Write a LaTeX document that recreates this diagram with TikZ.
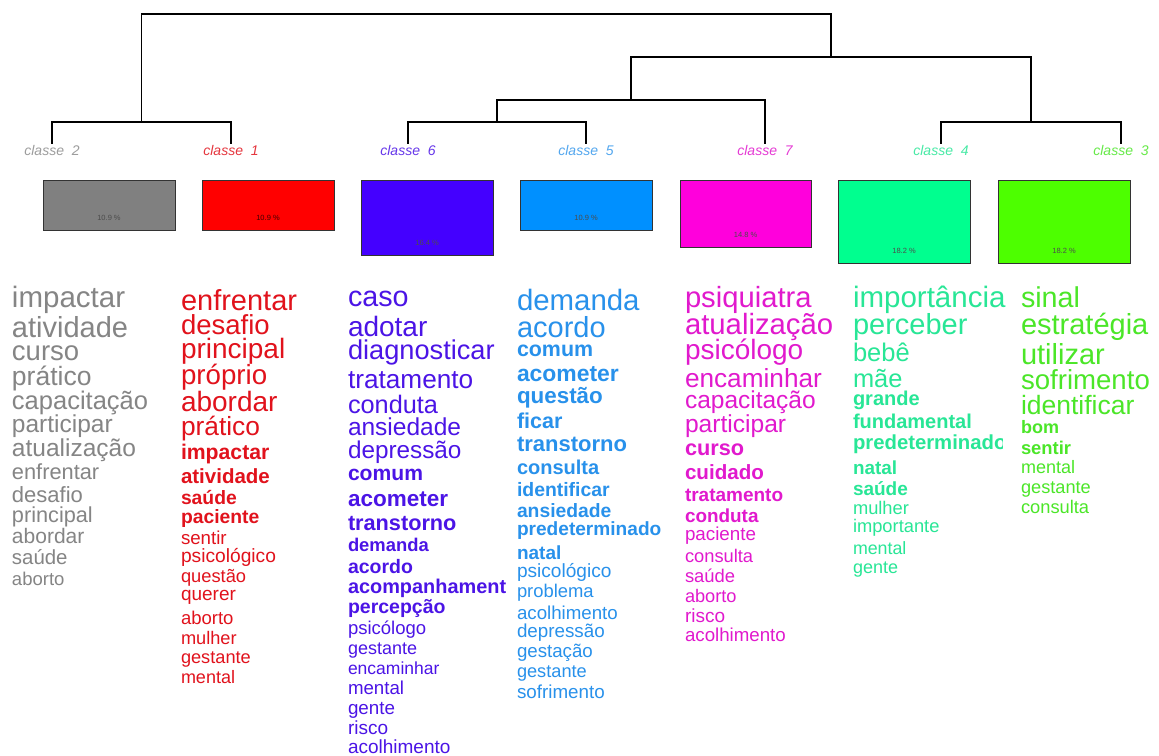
\documentclass[tikz,border=0pt]{standalone}
\usepackage{fontspec}
\setmainfont{Liberation Sans}
\definecolor{cgray}{RGB}{128,128,128}
\definecolor{cred}{RGB}{255,0,0}
\definecolor{cviol}{RGB}{68,0,255}
\definecolor{cblue}{RGB}{0,144,255}
\definecolor{cmag}{RGB}{255,0,220}
\definecolor{cspring}{RGB}{0,255,143}
\definecolor{cgreen}{RGB}{77,255,0}
\definecolor{tgray}{RGB}{133,133,133}
\definecolor{tred}{RGB}{225,18,28}
\definecolor{tviol}{RGB}{75,20,230}
\definecolor{tblue}{RGB}{40,145,235}
\definecolor{tmag}{RGB}{225,25,205}
\definecolor{tspring}{RGB}{40,230,150}
\definecolor{tgreen}{RGB}{75,230,40}
\newcommand\wtn{\mdseries}
\newcommand\wtb{\bfseries}
\newcommand\wordcol[4]{%
  \foreach \wtext/\wsize/\wy/\wf [count=\wi] in {#4}{%
    \node[word, text=#2, font={\fontsize{\wsize}{\wsize}\selectfont\csname wt\wf\endcsname}] (#3\wi) at (#1,{\wy+2.5+0.26*\wsize}) {\wtext};}}
\tikzset{
  word/.style={anchor=base west, inner sep=0pt, outer sep=0pt},
  cls/.style={inner sep=1pt, font=\fontsize{14}{14}\selectfont\itshape},
  box/.style={draw=black!80, line width=1pt, minimum width=132pt, inner sep=0pt},
  pct/.style={font=\fontsize{7.5}{7.5}\selectfont, text=black!70, inner sep=0pt},
  dendro/.style={line width=1.1pt, black}
}
\begin{document}
\begin{tikzpicture}[x=1pt,y=-1pt]
\fill[white] (0,0) rectangle (1159,755);
\useasboundingbox (0,0) rectangle (1159,755);

% class labels
\node[cls, text=tgray!80]  (c2) at (52,150)   {classe\ \ 2};
\node[cls, text=tred!85]   (c1) at (231,150)  {classe\ \ 1};
\node[cls, text=tviol!85]  (c6) at (408,150)  {classe\ \ 6};
\node[cls, text=tblue!80]  (c5) at (586,150)  {classe\ \ 5};
\node[cls, text=tmag!85]   (c7) at (765,150)  {classe\ \ 7};
\node[cls, text=tspring!85](c4) at (941,150)  {classe\ \ 4};
\node[cls, text=tgreen!85] (c3) at (1121,150) {classe\ \ 3};

% dendrogram
\coordinate (j21) at (141.5,122);
\coordinate (j65) at (497,122);
\coordinate (j43) at (1031,122);
\coordinate (j657) at (631,100);
\coordinate (jR) at (831,57);
\coordinate (jT) at (486,14);
\draw[dendro] (c2.north) |- (j21) -| (c1.north);
\draw[dendro] (c6.north) |- (j65) -| (c5.north);
\draw[dendro] (c4.north) |- (j43) -| (c3.north);
\draw[dendro] (j65) |- (j657) -| (c7.north);
\draw[dendro] (j657) |- (jR) -| (j43);
\draw[dendro] (j21) |- (jT) -| (jR);

% boxes
\node[box, fill=cgray,   minimum height=50pt, anchor=north] (b2) at (109,180) {};
\node[box, fill=cred,    minimum height=50pt, anchor=north] (b1) at (268,180) {};
\node[box, fill=cviol,   minimum height=75pt, anchor=north] (b6) at (427,180) {};
\node[box, fill=cblue,   minimum height=50pt, anchor=north] (b5) at (586,180) {};
\node[box, fill=cmag,    minimum height=67pt, anchor=north, minimum width=131pt] (b7) at (745.5,180) {};
\node[box, fill=cspring, minimum height=83pt, anchor=north] (b4) at (904,180) {};
\node[box, fill=cgreen,  minimum height=83pt, anchor=north] (b3) at (1064,180) {};
\node[pct] (p2) at ([yshift=13pt]b2.south) {10.9 \%};
\node[pct, text=black!75!red] (p1) at ([yshift=13pt]b1.south) {10.9 \%};
\node[pct] (p6) at ([yshift=13pt]b6.south) {16.4 \%};
\node[pct] (p5) at ([yshift=13pt]b5.south) {10.9 \%};
\node[pct] (p7) at ([yshift=13pt]b7.south) {14.8 \%};
\node[pct] (p4) at ([yshift=13pt]b4.south) {18.2 \%};
\node[pct] (p3) at ([yshift=13pt]b3.south) {18.2 \%};

% word columns
\wordcol{12}{tgray}{g}{impactar/29.5/297/n, atividade/29/327/n, curso/27.5/351/n, prático/26.5/376/n, capacitação/25.5/400/n, participar/24.5/424/n, atualização/24.5/448/n, enfrentar/21.8/471/n, desafio/22/494/n, principal/21.7/514/n, abordar/21/536/n, saúde/20.4/557/n, aborto/18.5/578/n}

\wordcol{181}{tred}{r}{enfrentar/29/300/n, desafio/27.5/325/n, principal/28/349/n, próprio/27.7/375/n, abordar/28/402/n, prático/26.3/426/n, impactar/21.2/451/b, atividade/20.5/476/b, saúde/19.3/497/b, paciente/19.3/516/b, sentir/18.7/537/n, psicológico/19.2/555/n, questão/18.3/575/n, querer/19/593/n, aborto/18.5/617/n, mulher/18.2/637/n, gestante/18.2/656/n, mental/18/676/n}

\wordcol{348}{tviol}{v}{caso/28.7/297/n, adotar/28/327/n, diagnosticar/27.2/350/n, tratamento/26.2/379/n, conduta/25.3/404/n, ansiedade/24.5/427/n, depressão/24.3/450/n, comum/21.1/473/b, acometer/22.5/498/b, transtorno/21.7/522/b, demanda/18.4/544/b, acordo/19.5/566/b, acompanhament/19.9/586/b, percepção/19.5/606/b, psicólogo/18.5/627/n, gestante/18/647/n, encaminhar/17.5/667/n, mental/18.7/687/n, gente/18.8/707/n, risco/19/727/n, acolhimento/19/746/n}

\wordcol{517}{tblue}{u}{demanda/29.4/300/n, acordo/29/327/n, comum/21.4/348/b, acometer/22.9/373/b, questão/22.4/395/b, ficar/21.5/420/b, transtorno/22/443/b, consulta/20/467/b, identificar/19.4/489/b, ansiedade/19.3/510/b, predeterminado/19.1/528/b, natal/19/552/b, psicológico/19.1/570/n, problema/18.4/590/n, acolhimento/18.7/612/n, depressão/18.8/630/n, gestação/18.7/650/n, gestante/18.2/670/n, sofrimento/18.8/691/n}

\wordcol{685}{tmag}{m}{psiquiatra/29.2/297/n, atualização/29.3/324/n, psicólogo/28/350/n, encaminhar/26.2/378/n, capacitação/24.5/400/n, participar/24.6/424/n, curso/21.7/447/b, cuidado/20.6/472/b, tratamento/19/494/b, conduta/18.9/515/b, paciente/18.8/533/n, consulta/18.3/555/n, saúde/18.4/575/n, aborto/18.2/595/n, risco/19/615/n, acolhimento/18.7/634/n}

\wordcol{853}{tspring}{s}{importância/29.5/297/n, perceber/29/324/n, bebê/25.5/352/n, mãe/25.4/378/n, grande/20/398/b, fundamental/20/421/b}
\begin{scope}
\clip (845,425) rectangle (1002,465);
\node[word, text=tspring, font={\fontsize{20.3}{20.3}\selectfont\bfseries}] (s7) at (853,{442+2.5+0.26*20.3}) {predeterminado};
\end{scope}
\wordcol{853}{tspring}{t}{natal/18.9/467/b, saúde/19/488/b, mulher/18.3/507/n, importante/18.3/525/n, mental/17.8/547/n, gente/18/566/n}

\wordcol{1021}{tgreen}{k}{sinal/28.7/298/n, estratégia/29/324/n, utilizar/29/354/n, sofrimento/27.6/380/n, identificar/26.5/405/n, bom/18/426/b, sentir/18.4/447/b, mental/18/466/n, gestante/18.2/486/n, consulta/18.3/506/n}
\end{tikzpicture}
\end{document}
